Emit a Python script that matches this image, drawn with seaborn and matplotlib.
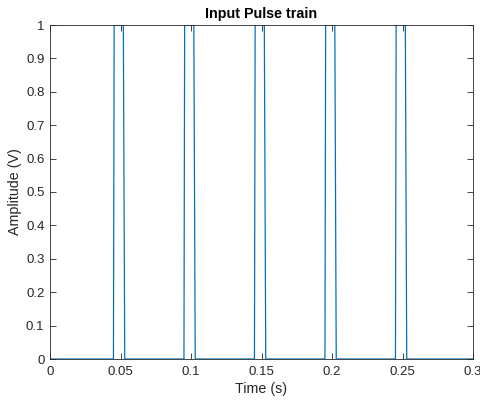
import matplotlib
matplotlib.use("Agg")
import matplotlib.pyplot as plt
import seaborn as sns
import pandas as pd
from matplotlib.ticker import FuncFormatter

# Data
time_s = [0.0, 0.045, 0.0455, 0.052, 0.053,
          0.095, 0.0955, 0.102, 0.103,
          0.145, 0.1455, 0.152, 0.153,
          0.195, 0.1955, 0.202, 0.203,
          0.245, 0.2455, 0.252, 0.253,
          0.3]
amplitude_v = [0, 0, 1, 1, 0,
               0, 1, 1, 0,
               0, 1, 1, 0,
               0, 1, 1, 0,
               0, 1, 1, 0,
               0]
x_ticks = [0, 0.05, 0.1, 0.15, 0.2, 0.25, 0.3]
y_ticks = [0, 0.1, 0.2, 0.3, 0.4, 0.5, 0.6, 0.7, 0.8, 0.9, 1.0]

df = pd.DataFrame({"t": time_s, "a": amplitude_v})

sns.set_theme(style="white")
plt.rcParams["font.family"] = ["Liberation Sans", "DejaVu Sans"]

axc = "#262626"
fig = plt.figure(figsize=(4.8, 4.0), dpi=100)
ax = fig.add_axes([50/480, 1-359/400, 423/480, 334/400])
sns.lineplot(data=df, x="t", y="a", ax=ax, color="#0072BD", linewidth=0.9,
             estimator=None, sort=False)

ax.set_xlim(0, 0.3)
ax.set_ylim(0, 1)
ax.set_xticks(x_ticks)
ax.set_yticks(y_ticks)
fmt = FuncFormatter(lambda v, p: f"{v:g}")
ax.xaxis.set_major_formatter(fmt)
ax.yaxis.set_major_formatter(fmt)
ax.tick_params(direction="in", length=4, width=0.6, color=axc, labelcolor=axc,
               labelsize=9.5, top=True, right=True, bottom=True, left=True)
ax.tick_params(axis="x", pad=5)
ax.tick_params(axis="y", pad=4)
for s in ax.spines.values():
    s.set_color(axc)
    s.set_linewidth(0.6)
    s.set_visible(True)

ax.set_xlabel("Time (s)", fontsize=10.3, color=axc, labelpad=3)
ax.set_ylabel("Amplitude (V)", fontsize=10.3, color=axc, labelpad=3)
ax.set_title("Input Pulse train", fontsize=10.3, fontweight="bold", color="black", pad=5)

fig.savefig("out.png", dpi=100, facecolor="white")
